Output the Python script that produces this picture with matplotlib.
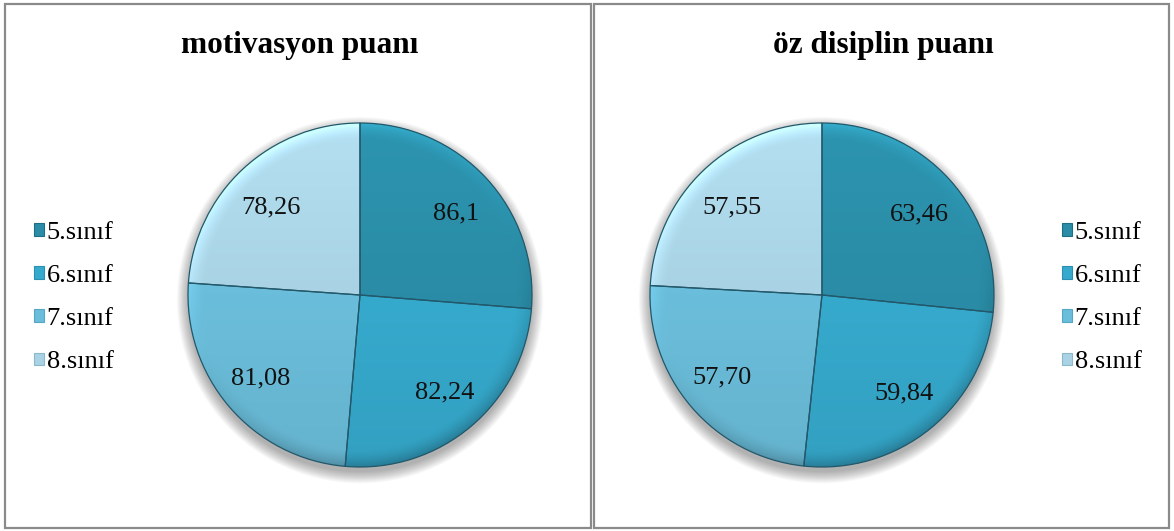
import matplotlib
matplotlib.use("Agg")
import matplotlib.pyplot as plt
from matplotlib.patches import Rectangle, Circle, Patch
from matplotlib.colors import to_rgb
import numpy as np

categories = ["5.sınıf", "6.sınıf", "7.sınıf", "8.sınıf"]
motivation = [86.1, 82.24, 81.08, 78.26]
motivation_labels = ["86,1", "82,24", "81,08", "78,26"]
discipline = [63.46, 59.84, 57.70, 57.55]
discipline_labels = ["63,46", "59,84", "57,70", "57,55"]
titles = ["motivasyon puanı", "öz disiplin puanı"]

colors = ["#2a8ca6", "#36aacd", "#6bbedb", "#a9d3e4"]
legend_edge = ["#1f6e85", "#2a8fb0", "#56a6c4", "#8bb8ca"]

W, H = 1174, 531
fig = plt.figure(figsize=(W / 100, H / 100), dpi=100)
fig.patch.set_facecolor("white")
plt.rcParams["font.family"] = ["Liberation Serif", "DejaVu Serif"]

# panel frames
for x0, x1 in [(5, 591), (594, 1169)]:
    fig.add_artist(Rectangle((x0 / W, 3 / H), (x1 - x0) / W, (H - 7) / H,
                             transform=fig.transFigure, fill=False,
                             edgecolor="#8a8a8a", linewidth=1.6))

R = 172  # pie radius in pixels
margin = 1.15

# shading grid for the bevelled look
n = 500
gx, gy = np.meshgrid(np.linspace(-1, 1, n), np.linspace(1, -1, n))
gr = np.hypot(gx, gy) + 1e-9
rim = np.clip((gr - 0.9) / 0.1, 0, 1) ** 1.5
light = (-0.35 * gx + 0.9 * gy) / gr
shade = 1.0 + 0.06 * gy + 0.22 * rim * light


def draw_pie(cx, cy, values, labels, title, title_x, legend_x):
    size = 2 * R * margin
    ax = fig.add_axes([(cx - size / 2) / W, (H - cy - size / 2) / H, size / W, size / H])

    # soft drop shadow
    for i in range(14):
        ax.add_patch(Circle((0.0, -0.03), 1.0 + 0.005 * i, facecolor="#000000",
                            alpha=0.022, edgecolor="none", zorder=0))

    wedges, _ = ax.pie(values, colors=colors, startangle=90, counterclock=False,
                       radius=1.0, wedgeprops=dict(edgecolor="none"), normalize=True)
    for w, c in zip(wedges, colors):
        w.set_zorder(1)
        rgb = np.clip(np.array(to_rgb(c))[None, None, :] * shade[:, :, None], 0, 1)
        im = ax.imshow(rgb, extent=(-1, 1, -1, 1), zorder=2, interpolation="bilinear")
        im.set_clip_path(w)

    # slice outlines
    outl, _ = ax.pie(values, startangle=90, counterclock=False, radius=1.0,
                     wedgeprops=dict(fill=False, edgecolor="#23586a", linewidth=0.9),
                     normalize=True)
    for w in outl:
        w.set_zorder(3)

    ax.set_xlim(-margin, margin)
    ax.set_ylim(-margin, margin)
    ax.set_aspect("equal")
    ax.axis("off")

    # value labels at slice centres
    for w, lab in zip(wedges, labels):
        ang = np.deg2rad((w.theta1 + w.theta2) / 2)
        ax.text(0.76 * np.cos(ang), 0.72 * np.sin(ang) - 0.015, lab, ha="center", va="center",
                fontsize=19, color="#111111", zorder=5)

    fig.text(title_x / W, (H - 53) / H, title, ha="center", va="baseline",
             fontsize=22.5, fontweight="bold", color="black")

    handles = [Patch(facecolor=c, edgecolor=e, linewidth=0.8)
               for c, e in zip(colors, legend_edge)]
    fig.legend(handles, categories, loc="upper left",
               bbox_to_anchor=(legend_x / W, (H - 222) / H),
               frameon=False, fontsize=19, handlelength=0.36, handleheight=0.36,
               handletextpad=0.12, labelspacing=0.8, borderaxespad=0, borderpad=0)


draw_pie(360, 295, motivation, motivation_labels, titles[0], 300, 34)
draw_pie(822, 295, discipline, discipline_labels, titles[1], 883, 1062)

fig.savefig("out.png", dpi=100, facecolor="white")
